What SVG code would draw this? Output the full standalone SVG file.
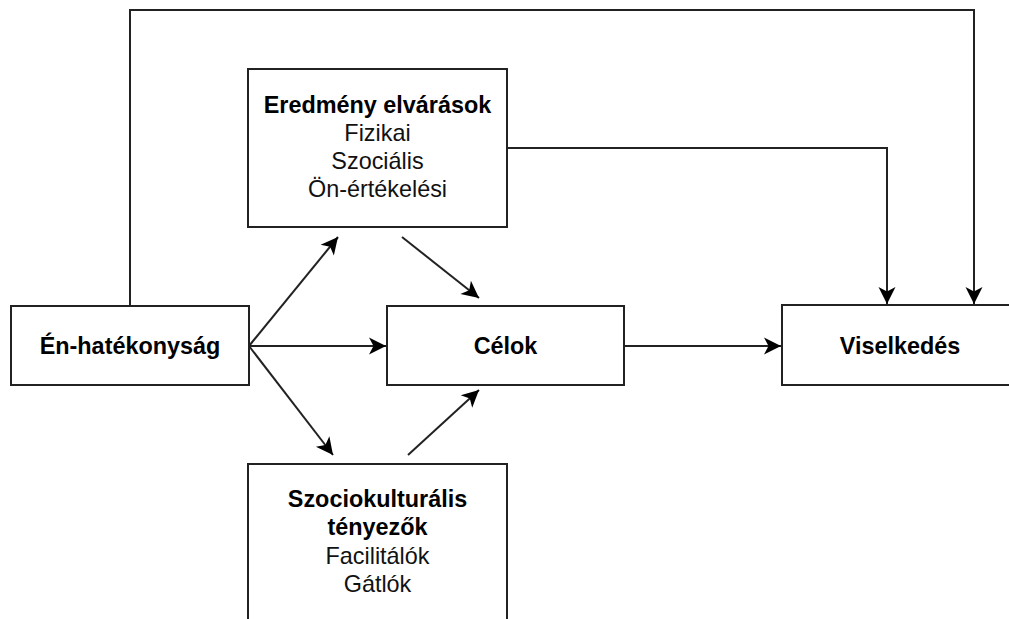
<svg xmlns="http://www.w3.org/2000/svg" width="1009" height="619" viewBox="0 0 1009 619">
  <style>
    .box { fill: #ffffff; stroke: #222222; stroke-width: 2; }
    .edge { fill: none; stroke: #222222; stroke-width: 2; }
    text { font-family: "Liberation Sans", Arial, sans-serif; font-size: 23.4px; fill: #111111; text-anchor: middle; }
    .b { font-weight: bold; fill: #000000; }
  </style>
  <defs>
    <marker id="arr" markerUnits="userSpaceOnUse" markerWidth="20" markerHeight="20" viewBox="-18 -10 20 20" refX="0" refY="0" orient="auto">
      <path d="M0,0 L-17,-8.5 L-12.5,0 L-17,8.5 Z" fill="#000000"/>
    </marker>
  </defs>
  <rect width="1009" height="619" fill="#ffffff"/>

  <g id="connectors">
    <path class="edge" d="M130,306 V10 H974 V304" marker-end="url(#arr)"/>
    <path class="edge" d="M507,148 H887 V304" marker-end="url(#arr)"/>
    <path class="edge" d="M624,346 H781" marker-end="url(#arr)"/>
    <path class="edge" d="M249,346 H386" marker-end="url(#arr)"/>
    <path class="edge" d="M249,346 L338,237" marker-end="url(#arr)"/>
    <path class="edge" d="M249,346 L333,455" marker-end="url(#arr)"/>
    <path class="edge" d="M402,237 L479,298" marker-end="url(#arr)"/>
    <path class="edge" d="M408,455 L479,390" marker-end="url(#arr)"/>
  </g>

  <g id="node-eredmeny">
    <rect class="box" x="248" y="69" width="259" height="158"/>
    <text class="b" x="377.5" y="113">Eredmény elvárások</text>
    <text x="377.5" y="141">Fizikai</text>
    <text x="377.5" y="169">Szociális</text>
    <text x="377.5" y="197">Ön-értékelési</text>
  </g>

  <g id="node-enhatekonysag">
    <rect class="box" x="11" y="306" width="238" height="79"/>
    <text class="b" x="130" y="354">Én-hatékonyság</text>
  </g>

  <g id="node-celok">
    <rect class="box" x="387" y="306" width="237" height="79"/>
    <text class="b" x="505.5" y="354">Célok</text>
  </g>

  <g id="node-viselkedes">
    <rect class="box" x="782" y="305" width="237" height="80"/>
    <text class="b" x="900" y="354">Viselkedés</text>
  </g>

  <g id="node-szociokulturalis">
    <rect class="box" x="248" y="464" width="259" height="170"/>
    <text class="b" x="377.5" y="507">Szociokulturális</text>
    <text class="b" x="377.5" y="535">tényezők</text>
    <text x="377.5" y="564">Facilitálók</text>
    <text x="377.5" y="592">Gátlók</text>
  </g>
</svg>
